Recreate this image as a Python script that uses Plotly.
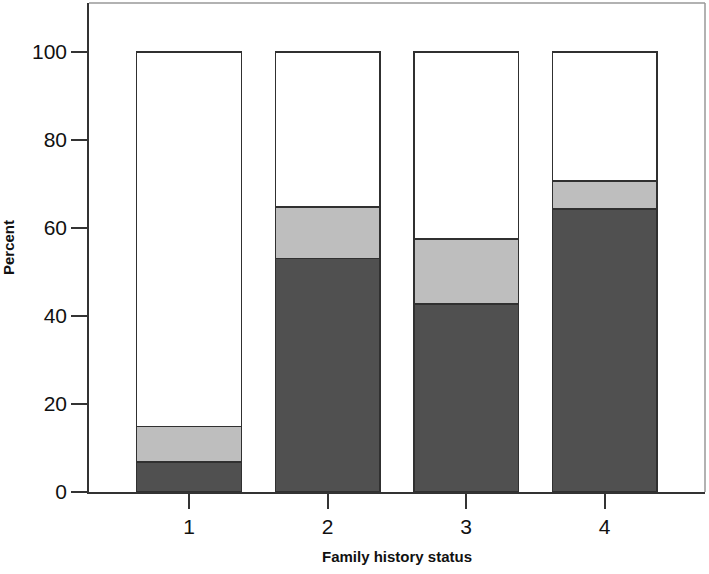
import plotly.graph_objects as go

categories = ["1", "2", "3", "4"]
dark_pct = [6.85, 53.0, 42.7, 64.25]
gray_pct = [8.0, 11.8, 14.75, 6.45]
white_pct = [round(100 - d - g, 2) for d, g in zip(dark_pct, gray_pct)]

x_pos = [1, 2, 3, 4]

fig = go.Figure()
for vals, col in [(dark_pct, "#505050"), (gray_pct, "#bebebe"), (white_pct, "#ffffff")]:
    fig.add_trace(go.Bar(
        x=x_pos, y=vals, width=0.755,
        marker=dict(color=col, line=dict(color="#303030", width=1.5)),
        showlegend=False, hoverinfo="skip",
    ))

fig.update_layout(
    width=709, height=574,
    barmode="stack",
    paper_bgcolor="white", plot_bgcolor="white",
    margin=dict(l=89, r=4, t=3, b=82),
    font=dict(family="Arial, Liberation Sans, sans-serif", color="#111"),
    xaxis=dict(
        range=[0.278, 4.724], tickvals=x_pos, ticktext=categories,
        showgrid=False, zeroline=False, automargin=False,
        showline=True, linecolor="#333", linewidth=1.5,
        ticks="outside", ticklen=15, tickwidth=1.5, tickcolor="#333",
        tickfont=dict(size=21, family="Arial, Liberation Sans, sans-serif"),
        title=dict(text="<b>Family history status</b>", standoff=15,
                   font=dict(size=15, family="Liberation Sans Narrow, Arial Narrow, Arial, sans-serif")),
    ),
    yaxis=dict(
        range=[0, 111.1], tickvals=[0, 20, 40, 60, 80, 100],
        showgrid=False, zeroline=False, automargin=False,
        showline=True, linecolor="#333", linewidth=1.5,
        ticks="outside", ticklen=16, tickwidth=1.5, tickcolor="#333",
        tickfont=dict(size=21, family="Arial, Liberation Sans, sans-serif"),
        title=dict(text="<b>Percent</b>", standoff=14,
                   font=dict(size=15, family="Liberation Sans Narrow, Arial Narrow, Arial, sans-serif")),
    ),
    shapes=[
        dict(type="line", xref="paper", yref="paper", x0=0, x1=1, y0=1, y1=1,
             line=dict(color="#999999", width=1.5)),
        dict(type="line", xref="paper", yref="paper", x0=1, x1=1, y0=0, y1=1,
             line=dict(color="#999999", width=1.5)),
    ],
)

fig.write_html("out.html", config={"displayModeBar": False},
               post_script="document.body.style.margin='0';")
